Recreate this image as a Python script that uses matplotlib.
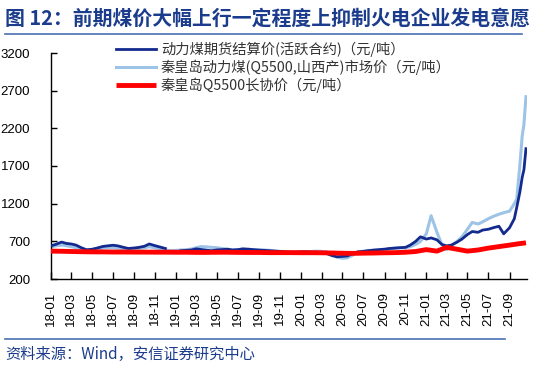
import numpy as np
import pandas as pd
import matplotlib
matplotlib.use("Agg")
import matplotlib.pyplot as plt
import matplotlib.dates as mdates

plt.rcParams['font.family'] = ['Noto Sans CJK SC', 'DejaVu Sans']

title = "图 12：前期煤价大幅上行一定程度上抑制火电企业发电意愿"
source = "资料来源：Wind，安信证券研究中心"
labels = ["动力煤期货结算价(活跃合约)（元/吨）",
          "秦皇岛动力煤(Q5500,山西产)市场价（元/吨）",
          "秦皇岛Q5500长协价（元/吨）"]

# semi-monthly dates (1st and 15th) Jan 2018 - Sep 2021, then October 2021 detail
dates = list(pd.date_range("2018-01-01", "2021-09-15", freq="SMS")) + \
    list(pd.to_datetime(["2021-09-22", "2021-10-01", "2021-10-08", "2021-10-13", "2021-10-19"]))

nan = np.nan
futures = [
    640, 660, 690, 672, 665, 650, 612, 588, 595, 610, 632, 640, 648, 640, 620, 605, 612, 620, 635, 665, 642, 625, 605, nan,
    nan, 575, 580, 585, 600, 592, 582, 576, 586, 590, 595, 585, 590, 600, 596, 590, 585, 580, 575, 570, 566, 560, 556, 555,
    560, 560, 556, 555, 550, 540, 510, 495, 500, 505, 540, 560, 566, 575, 585, 590, 596, 605, 610, 615, 620, 650, 700, 760,
    730, 745, 720, 660, 640, 650, 690, 730, 790, 830, 820, 850, 860, 880, 900, 800, 880, 1000,
    1150, 1350, 1550, 1650, 1930]
spot = [
    625, 640, 650, 642, 628, 615, 598, 582, 590, 600, 610, 615, 615, 610, 602, 596, 600, 606, 615, 628, 612, 600, 586, 576,
    580, 585, 590, 598, 615, 630, 626, 620, 615, 605, 596, 586, 590, 596, 590, 585, 580, 585, 580, 575, 566, 560, 556, 556,
    560, 565, 565, 570, 566, 560, 520, 490, 475, 480, 520, 560, 570, 580, 576, 576, 590, 600, 610, 615, 612, 630, 660, 700,
    800, 1040, 820, 660, 590, 640, 700, 760, 860, 950, 930, 960, 1000, 1030, 1060, 1080, 1100, 1200,
    1260, 1700, 2100, 2250, 2620]

red_dates = list(pd.date_range("2018-01-01", "2021-10-01", freq="MS")) + [pd.Timestamp("2021-10-19")]
contract = [
    570, 568, 565, 562, 560, 560, 558, 558, 557, 557, 556, 556,
    555, 555, 553, 553, 555, 555, 553, 552, 552, 550, 550, 550,
    549, 549, 548, 545, 542, 540, 543, 545, 548, 550, 555, 565,
    590, 570, 620, 595, 570, 585, 610, 630, 650, 670, 680]

dark = '#132B8E'
light = '#9DC3E6'
red = '#FF0000'
navy = '#1B3C8C'
rule = '#4A6FB5'

fig = plt.figure(figsize=(5.5, 3.67), dpi=100)
ax = fig.add_axes([51/550, 1-279/367, (527-51)/550, (279-53)/367])

l2, = ax.plot(dates, spot, color=light, lw=2.2, zorder=2)
l1, = ax.plot(dates, futures, color=dark, lw=2.0, zorder=3)
l3, = ax.plot(red_dates, contract, color=red, lw=3.5, zorder=4, solid_capstyle='butt')

ax.set_ylim(200, 3200)
ax.set_yticks(np.arange(200, 3201, 500))
ax.set_xlim(pd.Timestamp("2018-01-01"), pd.Timestamp("2021-10-22"))
ax.set_xticks(pd.date_range("2018-01-01", "2021-09-01", freq="2MS"))
ax.xaxis.set_major_formatter(mdates.DateFormatter("%y-%m"))
for s in ['top', 'right']:
    ax.spines[s].set_visible(False)
for s in ['left', 'bottom']:
    ax.spines[s].set_linewidth(1.0)
    ax.spines[s].set_color('black')
ax.tick_params(axis='y', direction='in', length=4, width=1, pad=15, labelsize=9.5)
ax.tick_params(axis='x', direction='in', length=5, width=1, pad=9, labelsize=9.5, rotation=90)
for t in ax.get_xticklabels() + ax.get_yticklabels():
    t.set_family(['Liberation Sans', 'DejaVu Sans'])

leg = fig.legend([l1, l2, l3], labels, loc='upper left', bbox_to_anchor=(116/550, 1-42/367),
                 frameon=False, fontsize=10.3, handlelength=2.8, handletextpad=0.35,
                 labelspacing=0.18, borderpad=0, borderaxespad=0)
for t in leg.get_texts():
    t.set_color('#333333')

fig.text(5/550, 1-18/367, title, fontsize=14.3, fontweight='bold', color=navy, va='center', ha='left')
fig.add_artist(plt.Line2D([5/550, 522/550], [1-34/367, 1-34/367], color=rule, lw=1.2))
fig.add_artist(plt.Line2D([5/550, 505/550], [1-339/367, 1-339/367], color=rule, lw=1.2))
fig.text(5/550, 1-354/367, source, fontsize=11, color=navy, va='center', ha='left', style='italic')

fig.savefig("out.png", dpi=100)
